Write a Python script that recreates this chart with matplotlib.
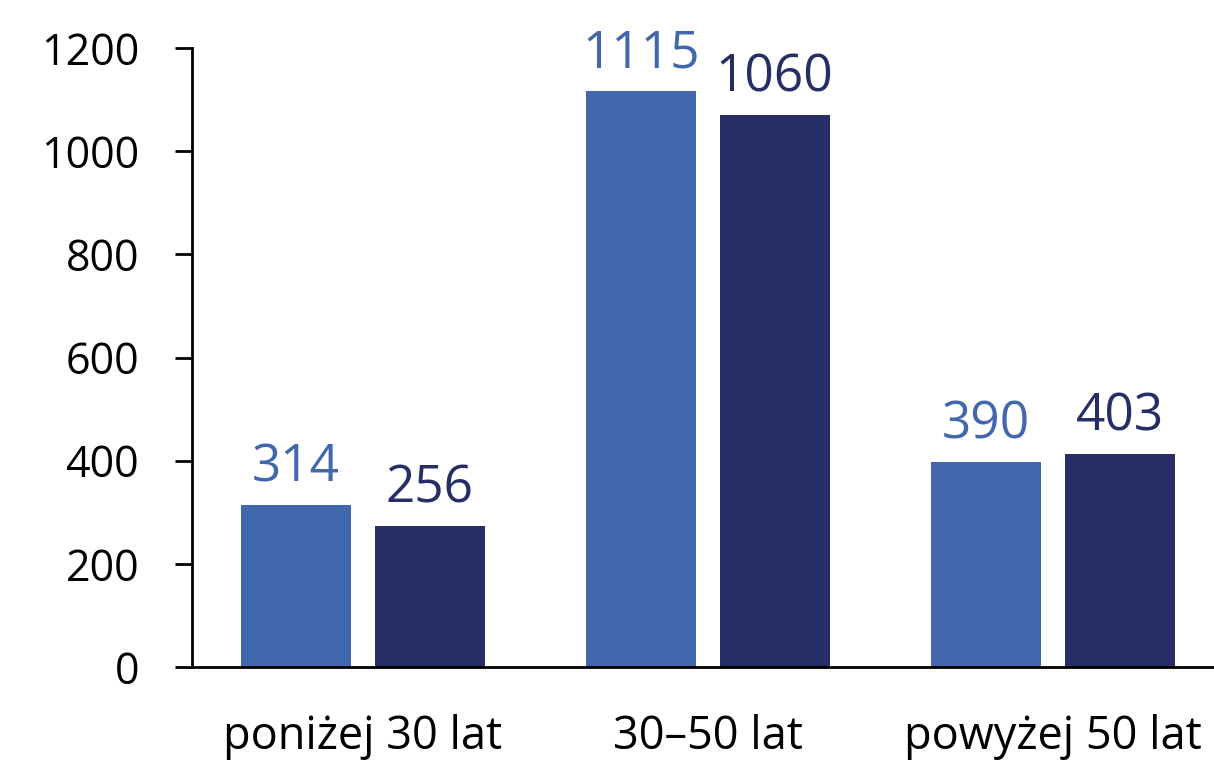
import numpy as np
import matplotlib
matplotlib.use('Agg')
import matplotlib.pyplot as plt

plt.rcParams['font.family'] = ['Open Sans', 'DejaVu Sans']

categories = ['poniżej 30 lat', '30–50 lat', 'powyżej 50 lat']
blue_labels = ['314', '1115', '390']
dark_labels = ['256', '1060', '403']
# bar heights as drawn in the picture
blue_heights = [314, 1116, 398]
dark_heights = [274, 1070, 413]
yticks = [0, 200, 400, 600, 800, 1000, 1200]

blue = '#4267AC'
dark = '#262E66'

fig = plt.figure(figsize=(12.14, 7.61), dpi=100)
ax = fig.add_axes((192 / 1214, 1 - 667 / 761, 1 - 192 / 1214, (667 - 48) / 761))

x = np.arange(len(categories))
w = 0.319
off = 0.194
b1 = ax.bar(x - off, blue_heights, width=w, color=blue)
b2 = ax.bar(x + off, dark_heights, width=w, color=dark)

for rect, lab in zip(b1, blue_labels):
    ax.annotate(lab, (rect.get_x() + rect.get_width() / 2, rect.get_height()),
                xytext=(0, 17), textcoords='offset points', ha='center', va='baseline',
                fontsize=37, color=blue)
for rect, lab in zip(b2, dark_labels):
    ax.annotate(lab, (rect.get_x() + rect.get_width() / 2, rect.get_height()),
                xytext=(0, 17), textcoords='offset points', ha='center', va='baseline',
                fontsize=37, color=dark)

ax.set_xlim(-0.496, 2.468)
ax.set_ylim(0, 1200)
ax.set_yticks(yticks)
ax.set_xticks(x)
ax.set_xticklabels(categories)
ax.tick_params(axis='y', length=12, width=2, pad=26, labelsize=31, colors='black')
ax.tick_params(axis='x', length=0, pad=34, labelsize=32.5)
for s in ['top', 'right']:
    ax.spines[s].set_visible(False)
ax.spines['left'].set_linewidth(2)
ax.spines['bottom'].set_linewidth(2)

fig.savefig('out.png', dpi=100)
